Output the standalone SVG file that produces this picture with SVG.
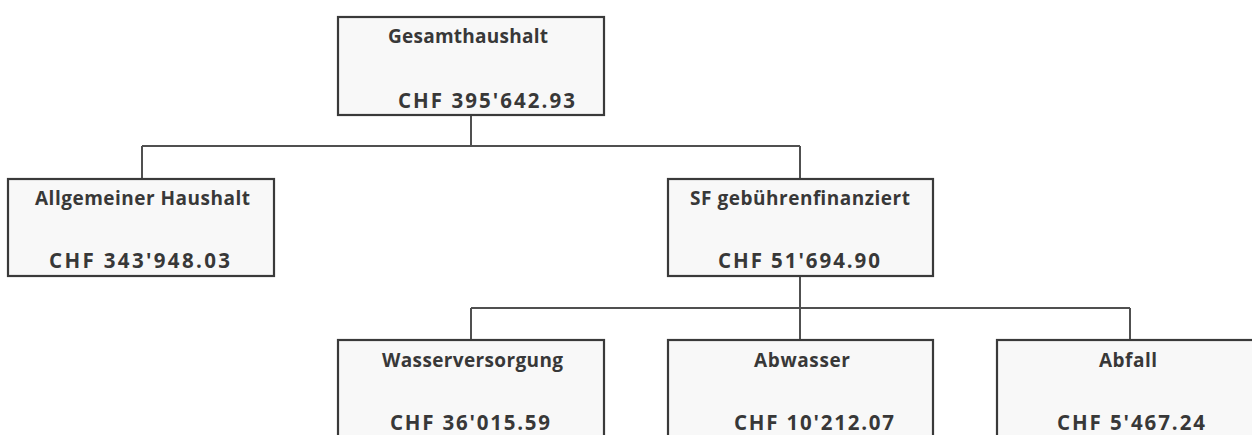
<svg xmlns="http://www.w3.org/2000/svg" width="1252" height="435" viewBox="0 0 1252 435">
<style>
.box{fill:#f8f8f8;stroke:#3a3a3a;stroke-width:2.2}
.t{font-family:"Open Sans","Liberation Sans",sans-serif;font-weight:700;font-size:19px;fill:#383838}
.v{font-size:20.5px}
.conn{fill:none;stroke:#505050;stroke-width:2}
</style>
<rect width="1252" height="435" fill="#ffffff"/>
<g id="connectors">
<path class="conn" d="M471,115 V146 M142,146 H800 M142,146 V179 M800,146 V179"/>
<path class="conn" d="M800,276 V340 M471,308 H1130 M471,308 V340 M1130,308 V340"/>
</g>
<g id="gesamthaushalt">
<rect class="box" x="338" y="17" width="266" height="98"/>
<text class="t" x="388" y="43" textLength="160" lengthAdjust="spacing">Gesamthaushalt</text>
<text class="t v" x="398" y="108" textLength="177" lengthAdjust="spacing">CHF 395'642.93</text>
</g>
<g id="allgemeiner">
<rect class="box" x="8" y="179" width="266" height="97"/>
<text class="t" x="35" y="205" textLength="215" lengthAdjust="spacing">Allgemeiner Haushalt</text>
<text class="t v" x="49" y="268" textLength="181" lengthAdjust="spacing">CHF 343'948.03</text>
</g>
<g id="sf">
<rect class="box" x="668" y="179" width="265" height="97"/>
<text class="t" x="690" y="205" textLength="220" lengthAdjust="spacing">SF gebührenfinanziert</text>
<text class="t v" x="718" y="268" textLength="162" lengthAdjust="spacing">CHF 51'694.90</text>
</g>
<g id="wasserversorgung">
<rect class="box" x="338" y="340" width="266" height="110"/>
<text class="t" x="382" y="367" textLength="181" lengthAdjust="spacing">Wasserversorgung</text>
<text class="t v" x="390" y="430" textLength="160" lengthAdjust="spacing">CHF 36'015.59</text>
</g>
<g id="abwasser">
<rect class="box" x="668" y="340" width="265" height="110"/>
<text class="t" x="754" y="367" textLength="96" lengthAdjust="spacing">Abwasser</text>
<text class="t v" x="734" y="430" textLength="160" lengthAdjust="spacing">CHF 10'212.07</text>
</g>
<g id="abfall">
<rect class="box" x="997" y="340" width="265" height="110"/>
<text class="t" x="1099" y="367" textLength="58" lengthAdjust="spacing">Abfall</text>
<text class="t v" x="1057" y="430" textLength="148" lengthAdjust="spacing">CHF 5'467.24</text>
</g>
</svg>
